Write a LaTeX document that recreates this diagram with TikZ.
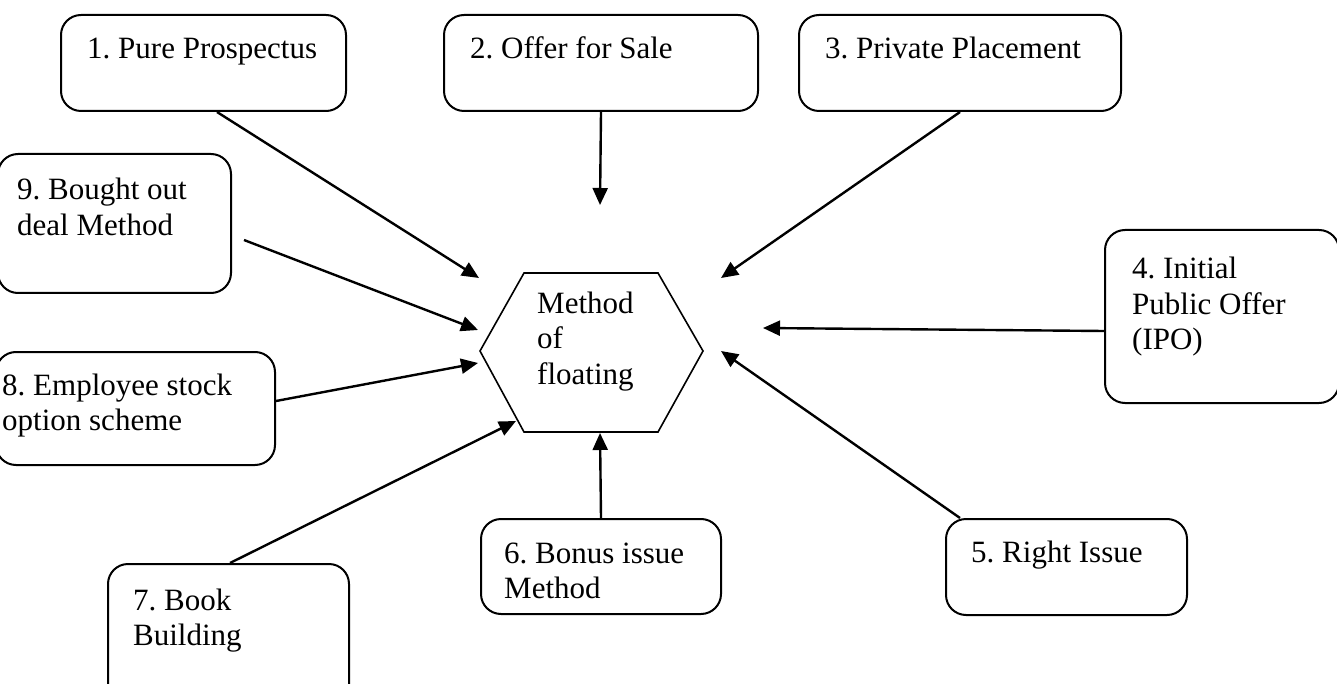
\documentclass[tikz,border=0pt]{standalone}
\usepackage{fontspec}
\setmainfont{Liberation Serif}
\usetikzlibrary{arrows.meta}
\frenchspacing

\newcommand{\txtlines}[1]{\parbox[t]{9cm}{\raggedright #1}}

\tikzset{
  box/.style={draw, line width=2pt, rounded corners=20pt, inner sep=0pt, anchor=north west},
  txt/.style={inner sep=0pt, anchor=base west, font=\fontsize{31}{35.5}\selectfont},
  arr/.style={line width=2.4pt, -{Triangle[length=17pt,width=15pt]}},
}

\begin{document}
\begin{tikzpicture}[x=1pt, y=-1pt]
\useasboundingbox (0,0) rectangle (1337,684);
\clip (0,0) rectangle (1337,684);

% outer boxes
\node[box, minimum width=285, minimum height=96]  (b1) at (60,14)   {};
\node[box, minimum width=314, minimum height=96]  (b2) at (443,14)  {};
\node[box, minimum width=322, minimum height=96]  (b3) at (798,14)  {};
\node[box, minimum width=234, minimum height=173] (b4) at (1104,229) {};
\node[box, minimum width=241, minimum height=96]  (b5) at (945,518) {};
\node[box, minimum width=240, minimum height=95]  (b6) at (480,518) {};
\node[box, minimum width=241, minimum height=140] (b7) at (107,563) {};
\node[box, minimum width=279, minimum height=113] (b8) at (-5,351)  {};
\node[box, minimum width=233, minimum height=139] (b9) at (-3,153)  {};

% box texts
\node[txt] (t1) at ([shift={(27,45)}]b1.north west) {\txtlines{1. Pure Prospectus}};
\node[txt] (t2) at ([shift={(27,45)}]b2.north west) {\txtlines{2. Offer for Sale}};
\node[txt] (t3) at ([shift={(27,45)}]b3.north west) {\txtlines{3. Private Placement}};
\node[txt] (t4) at ([shift={(28,50)}]b4.north west) {\txtlines{4. Initial\\Public Offer\\(IPO)}};
\node[txt] (t5) at ([shift={(26,44)}]b5.north west) {\txtlines{5. Right Issue}};
\node[txt] (t6) at ([shift={(24,45)}]b6.north west) {\txtlines{6. Bonus issue\\Method}};
\node[txt] (t7) at ([shift={(26,47)}]b7.north west) {\txtlines{7. Book\\Building}};
\node[txt] (t8) at ([shift={(7,44)}]b8.north west)  {\txtlines{8. Employee stock\\option scheme}};
\node[txt] (t9) at ([shift={(20,47)}]b9.north west) {\txtlines{9. Bought out\\deal Method}};

% central hexagon
\draw[line width=1.6pt, line join=miter]
  (480,351) -- (524,273) -- (658,273) -- (703,351) -- (658,432) -- (524,432) -- cycle;
\node[txt] (hex) at (537,313) {\txtlines{Method\\of\\floating}};

% arrow tips around the hexagon
\coordinate (e1) at (479,278);
\coordinate (e2) at (600,205);
\coordinate (e3) at (721,278);
\coordinate (e4) at (763,328);
\coordinate (e5) at (721,351);
\coordinate (e6) at (600,433);
\coordinate (e7) at (516,421);
\coordinate (e8) at (478,363);
\coordinate (e9) at (478,330);

% connectors
\draw[arr] ([xshift=157pt]b1.south west) -- (e1);
\draw[arr] (b2.south) -- (e2);
\draw[arr] ([xshift=162pt]b3.south west) -- (e3);
\draw[arr] ([yshift=-14.5pt]b4.west) -- (e4);
\draw[arr] ([xshift=15pt]b5.north west) -- (e5);
\draw[arr] (b6.north) -- (e6);
\draw[arr] ([xshift=123pt]b7.north west) -- (e7);
\draw[arr] ([yshift=7.5pt]b8.east) -- (e8);
\draw[arr] ([shift={(12,16.5)}]b9.east) -- (e9);
\end{tikzpicture}
\end{document}
